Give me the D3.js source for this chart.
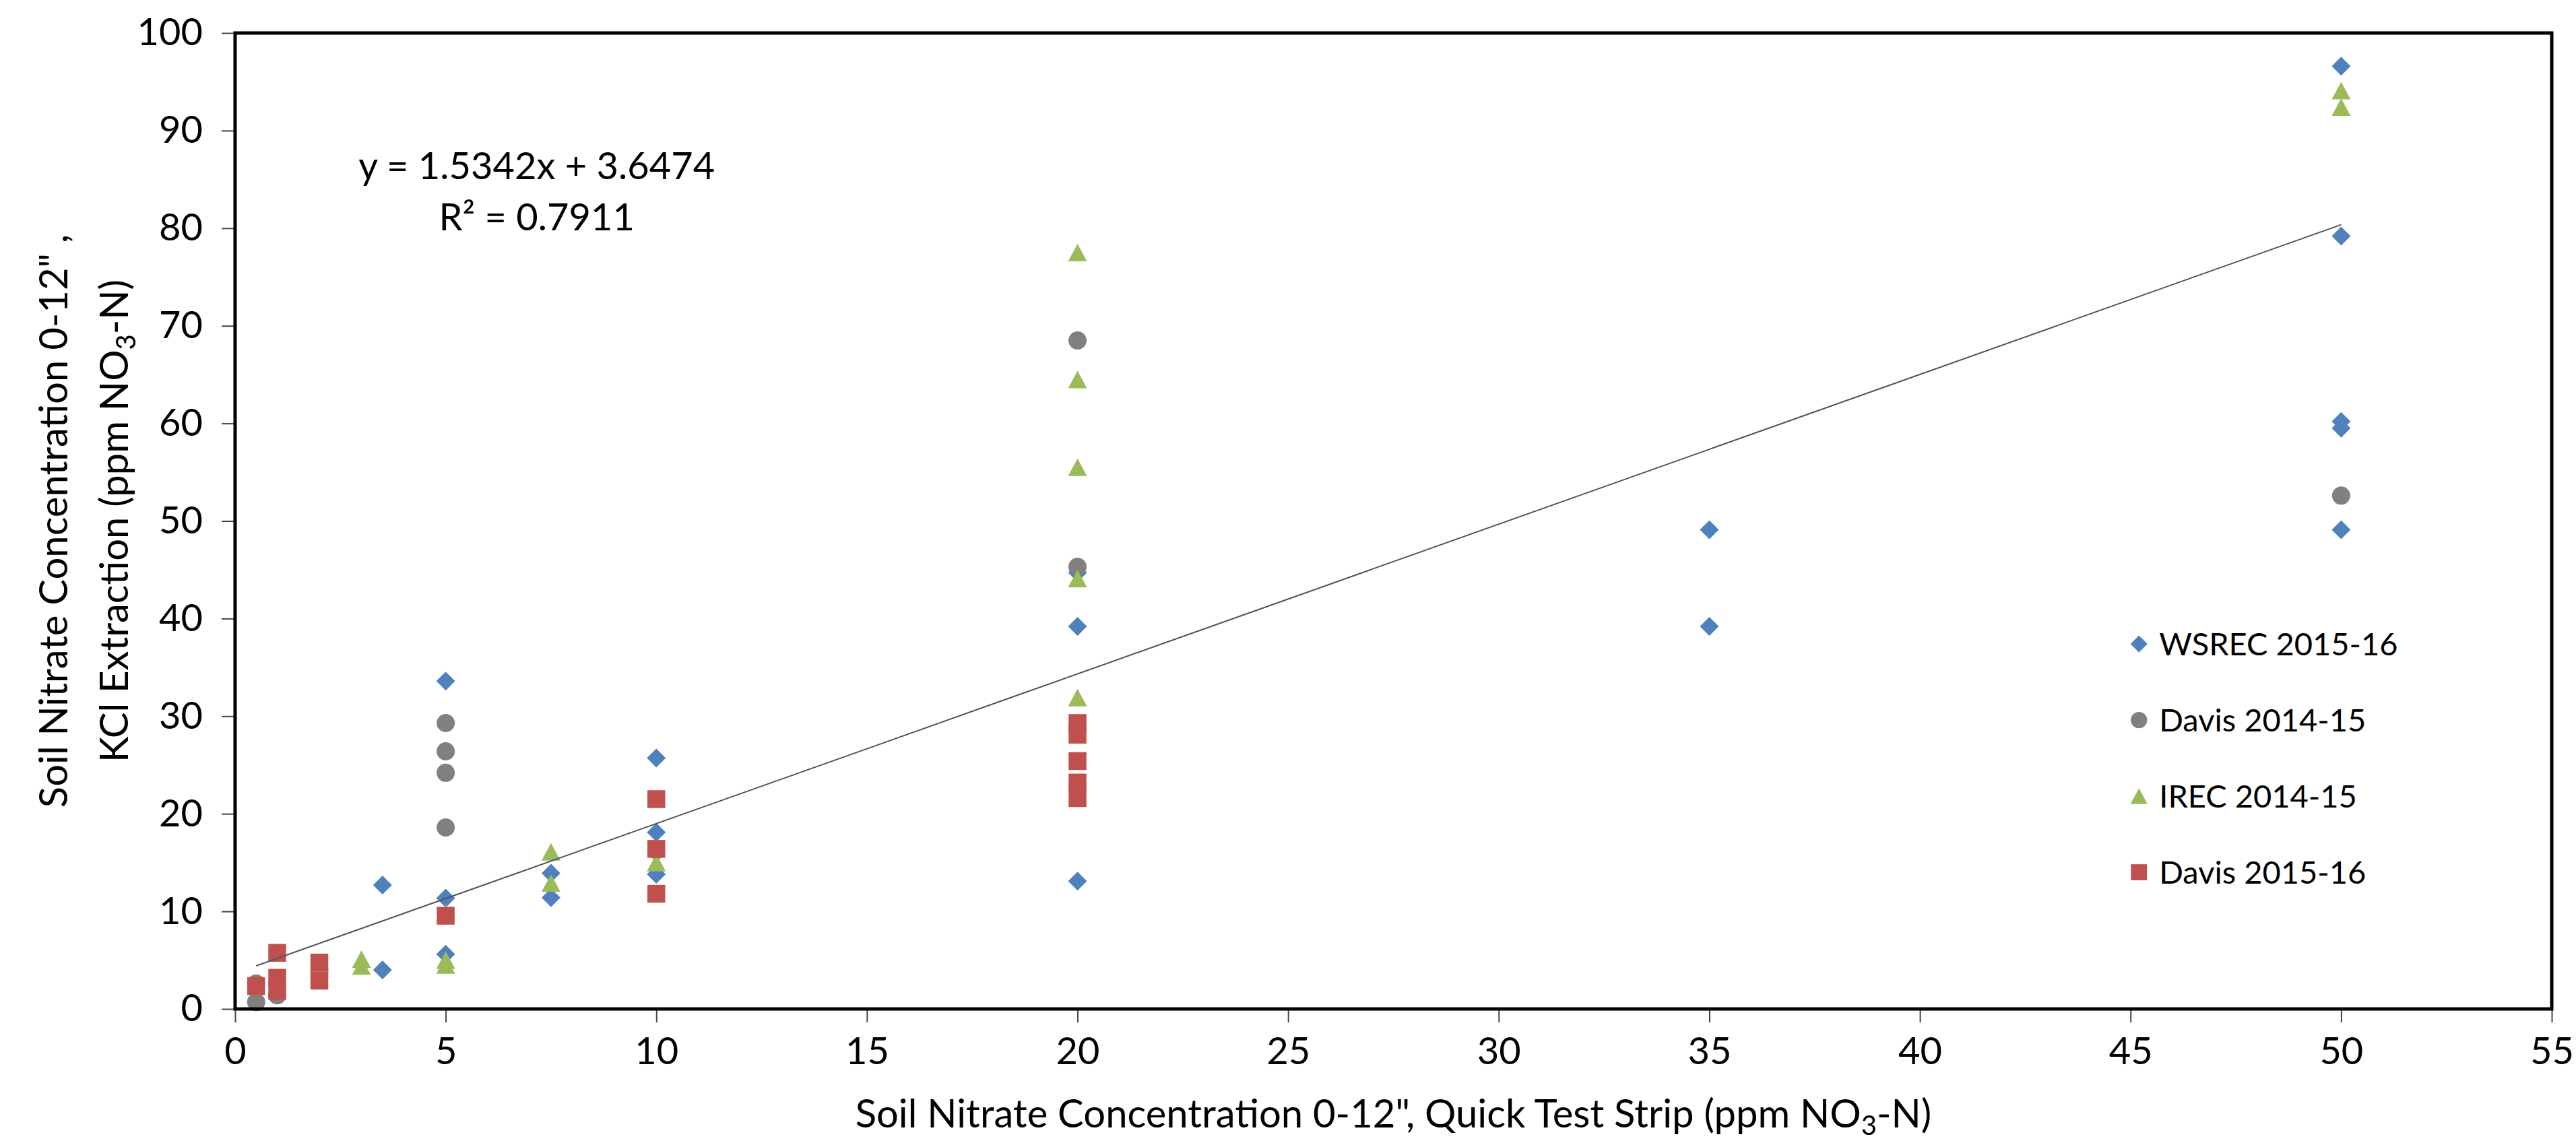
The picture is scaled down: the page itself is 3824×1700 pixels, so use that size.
<!DOCTYPE html>
<html>
<head>
<meta charset="utf-8">
<script src="https://cdn.jsdelivr.net/npm/d3@7"></script>
<style>
  body { margin: 0; background: #fff; }
  text { font-family: Lato, "Open Sans", sans-serif; fill: #000; }
</style>
</head>
<body>
<div id="container"></div>
<script>
const w = 3824;
const h = 1700;

// data
const seriesNames = ["WSREC 2015-16", "Davis 2014-15", "IREC 2014-15", "Davis 2015-16"];
const seriesColors = ["#4F81BD", "#808080", "#9BBB59", "#C0504D"];

const wsrecX = [2, 3.5, 3.5, 5, 5, 5, 7.5, 7.5, 10, 10, 10, 10, 20, 20, 20, 35, 35, 50, 50, 50, 50, 50];
const wsrecY = [4.2, 12.7, 4.0, 33.6, 11.35, 5.6, 13.9, 11.4, 25.7, 18.1, 16.0, 13.8, 44.7, 39.2, 13.1, 49.1, 39.2, 96.6, 79.2, 60.2, 59.5, 49.1];

const davis1415X = [0.5, 0.5, 1, 5, 5, 5, 5, 20, 20, 50];
const davis1415Y = [0.7, 2.6, 1.4, 29.3, 26.4, 24.2, 18.6, 68.5, 45.3, 52.6];

const irecX = [2, 3, 3, 5, 5, 5, 7.5, 7.5, 10, 20, 20, 20, 20, 20, 50, 50];
const irecY = [4.7, 5.1, 4.4, 9.8, 5.0, 4.5, 16.1, 12.9, 15.0, 77.5, 64.5, 55.5, 44.1, 31.9, 94.1, 92.4];

const davis1516X = [0.5, 1, 1, 1, 2, 2, 5, 10, 10, 10, 20, 20, 20, 20, 20];
const davis1516Y = [2.35, 5.75, 3.2, 1.85, 4.75, 2.9, 9.55, 21.5, 16.4, 11.8, 29.3, 28.1, 25.4, 23.2, 21.6];

const xTicks = [0, 5, 10, 15, 20, 25, 30, 35, 40, 45, 50, 55];
const yTicks = [0, 10, 20, 30, 40, 50, 60, 70, 80, 90, 100];

const trendSlope = 1.5342;
const trendIntercept = 3.6474;
const trendRange = [0.5, 50];

const series = [
  { name: seriesNames[0], color: seriesColors[0], shape: "diamond", xs: wsrecX, ys: wsrecY },
  { name: seriesNames[1], color: seriesColors[1], shape: "circle", xs: davis1415X, ys: davis1415Y },
  { name: seriesNames[2], color: seriesColors[2], shape: "triangle", xs: irecX, ys: irecY },
  { name: seriesNames[3], color: seriesColors[3], shape: "square", xs: davis1516X, ys: davis1516Y }
];

const margin = { top: 49, right: 36, bottom: 202, left: 349 };
const pw = w - margin.left - margin.right;
const ph = h - margin.top - margin.bottom;

const svg = d3.select("#container")
              .append("svg")
              .attr("width", w)
              .attr("height", h);

const x = d3.scaleLinear().domain([0, 55]).range([0, pw]);
const y = d3.scaleLinear().domain([0, 100]).range([ph, 0]);

const g = svg.append("g").attr("transform", `translate(${margin.left},${margin.top})`);

// axes
const xAxis = g.append("g")
               .attr("transform", `translate(0,${ph})`)
               .call(d3.axisBottom(x).tickValues(xTicks).tickSize(20).tickPadding(22));
const yAxis = g.append("g")
               .call(d3.axisLeft(y).tickValues(yTicks).tickSize(20).tickPadding(28));

[xAxis, yAxis].forEach(a => {
  a.select(".domain").remove();
  a.selectAll(".tick line").attr("stroke", "#444").attr("stroke-width", 2);
  a.selectAll(".tick text").style("font-size", "56px").attr("fill", "#000");
});

// marker shapes, k scales the whole marker (legend uses smaller ones)
function marker(shape, k) {
  if (shape === "diamond") return d3.symbol().type(d3.symbolSquare).size(392 * k * k)();
  if (shape === "circle") return d3.symbol().type(d3.symbolCircle).size(573 * k * k)();
  if (shape === "square") return d3.symbol().type(d3.symbolSquare).size(700 * k * k)();
  const hw = 14 * k, hh = 13 * k;
  return `M0,${-hh}L${hw},${hh}L${-hw},${hh}Z`;
}
const rot = shape => shape === "diamond" ? " rotate(45)" : "";

series.forEach(s => {
  const pts = s.xs.map((v, i) => ({ x: v, y: s.ys[i] }));
  g.append("g")
   .selectAll("path")
   .data(pts)
   .enter()
   .append("path")
   .attr("d", marker(s.shape, 1))
   .attr("transform", d => `translate(${x(d.x)},${y(d.y)})` + rot(s.shape))
   .attr("fill", s.color);
});

// linear trend line
const line = d3.line().x(d => x(d)).y(d => y(trendSlope * d + trendIntercept));
g.append("path")
 .datum(trendRange)
 .attr("d", line)
 .attr("fill", "none")
 .attr("stroke", "#555")
 .attr("stroke-width", 2);

// plot border
g.append("rect")
 .attr("x", 0)
 .attr("y", 0)
 .attr("width", pw)
 .attr("height", ph)
 .attr("fill", "none")
 .attr("stroke", "#000")
 .attr("stroke-width", 5);

// equation label
const eqX = x(7.16);
const eq = g.append("text")
            .attr("text-anchor", "middle")
            .style("font-size", "56px");
eq.append("tspan").attr("x", eqX).attr("y", y(85)).text("y = 1.5342x + 3.6474");
eq.append("tspan").attr("x", eqX).attr("y", y(79.8)).text("R² = 0.7911");

// legend
const legend = g.append("g").attr("transform", `translate(${x(45.2)},${y(37.4)})`);
series.forEach((s, i) => {
  const row = legend.append("g").attr("transform", `translate(0,${i * 113})`);
  row.append("path")
     .attr("d", marker(s.shape, 0.9))
     .attr("transform", rot(s.shape).trim() || null)
     .attr("fill", s.color);
  row.append("text")
     .attr("x", 30)
     .attr("y", 17)
     .style("font-size", "47px")
     .text(s.name);
});

// axis titles
svg.append("text")
   .attr("text-anchor", "middle")
   .attr("x", margin.left + pw / 2)
   .attr("y", 1674)
   .style("font-size", "58px")
   .call(t => {
     t.append("tspan").text("Soil Nitrate Concentration 0-12\", Quick Test Strip (ppm NO");
     t.append("tspan").attr("dy", 11).style("font-size", "40px").text("3");
     t.append("tspan").attr("dy", -11).text("-N)");
   });

const yTitle = svg.append("text")
                  .attr("text-anchor", "middle")
                  .attr("transform", `translate(0,${margin.top + ph / 2}) rotate(-90)`)
                  .style("font-size", "58px");
yTitle.append("tspan").attr("x", 0).attr("y", 100).text("Soil Nitrate Concentration 0-12\" ,");
const l2 = yTitle.append("tspan").attr("x", 0).attr("y", 190);
l2.append("tspan").text("KCl Extraction (ppm NO");
l2.append("tspan").attr("dy", 11).style("font-size", "40px").text("3");
l2.append("tspan").attr("dy", -11).text("-N)");
</script>
</body>
</html>
